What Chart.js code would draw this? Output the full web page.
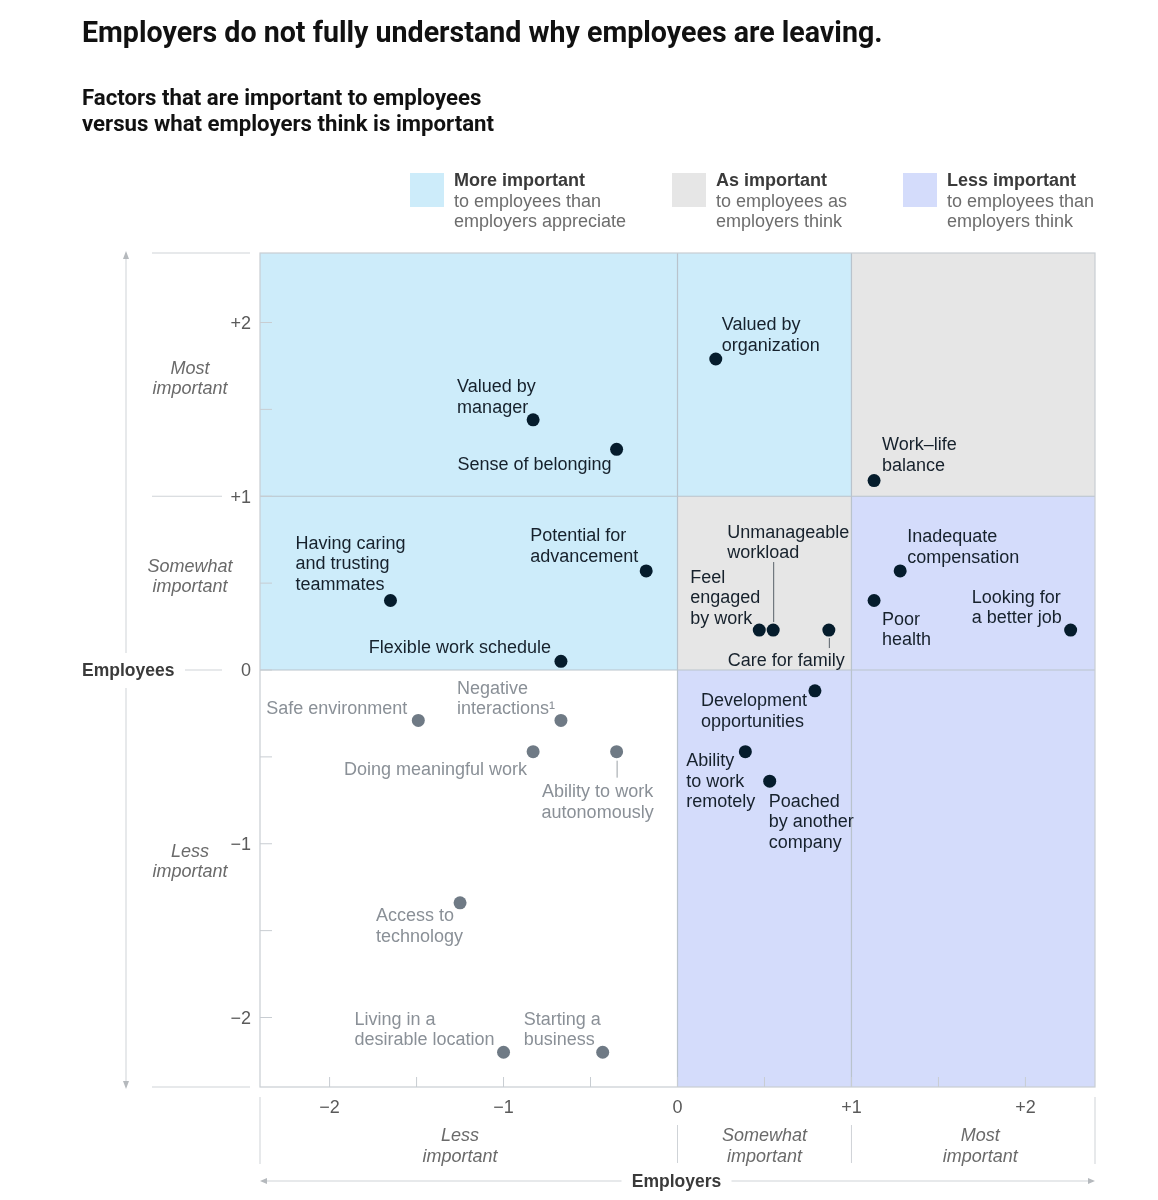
<!DOCTYPE html>
<html>
<head>
<meta charset="utf-8">
<script src="https://cdn.jsdelivr.net/npm/chart.js@4.4.0/dist/chart.umd.min.js"></script>
<style>
  body { margin: 0; background: #fff; font-family: "Liberation Sans", Arial, sans-serif; }
  #page { position: relative; width: 1158px; height: 1200px; overflow: hidden; }
  #chart { position: absolute; left: 0; top: 0; }
  h1 { position: absolute; left: 82px; top: 15px; margin: 0; font: 700 28.6px Roboto, sans-serif; color: #111; white-space: nowrap; }
  h2 { position: absolute; left: 82px; top: 84px; margin: 0; font: 700 22.2px/26px Roboto, sans-serif; color: #111; }
  .key { position: absolute; top: 170px; font-size: 18px; line-height: 20.5px; color: #6d6d6d; }
  .key .sw { position: absolute; left: 0; top: 3px; width: 34px; height: 34px; }
  .key .txt { position: absolute; left: 44px; top: 0; white-space: nowrap; }
  .key b { color: #3a3a3a; }
</style>
</head>
<body>
<div id="page">
  <canvas id="chart" width="1158" height="1200"></canvas>
  <h1>Employers do not fully understand why employees are leaving.</h1>
  <h2>Factors that are important to employees<br>versus what employers think is important</h2>
  <div class="key" style="left:410px"><div class="sw" style="background:#cdecfa"></div>
    <div class="txt"><b>More important</b><br>to employees than<br>employers appreciate</div></div>
  <div class="key" style="left:672px"><div class="sw" style="background:#e6e6e6"></div>
    <div class="txt"><b>As important</b><br>to employees as<br>employers think</div></div>
  <div class="key" style="left:903px"><div class="sw" style="background:#d4dcfb"></div>
    <div class="txt"><b>Less important</b><br>to employees than<br>employers think</div></div>
</div>
<script>
// ===== Data =====
const factors = [
  "Valued by\norganization", "Valued by\nmanager", "Sense of belonging", "Work–life\nbalance",
  "Potential for\nadvancement", "Having caring\nand trusting\nteammates", "Flexible work schedule",
  "Unmanageable\nworkload", "Feel\nengaged\nby work", "Care for family",
  "Inadequate\ncompensation", "Poor\nhealth", "Looking for\na better job",
  "Development\nopportunities", "Ability\nto work\nremotely", "Poached\nby another\ncompany",
  "Safe environment", "Negative\ninteractions¹", "Doing meaningful work",
  "Ability to work\nautonomously", "Access to\ntechnology", "Living in a\ndesirable location",
  "Starting a\nbusiness"
];
// importance according to employers (x) and employees (y)
const employerScores = [0.22, -0.83, -0.35, 1.13, -0.18, -1.65, -0.67, 0.55, 0.47, 0.87,
  1.28, 1.13, 2.26, 0.79, 0.39, 0.53, -1.49, -0.67, -0.83, -0.35, -1.25, -1.0, -0.43];
const employeeScores = [1.79, 1.44, 1.27, 1.09, 0.57, 0.40, 0.05, 0.23, 0.23, 0.23,
  0.57, 0.40, 0.23, -0.12, -0.47, -0.64, -0.29, -0.29, -0.47, -0.47, -1.34, -2.2, -2.2];

const axisMin = -2.4, axisMax = 2.4;
const axisTicks = [-2, -1, 0, 1, 2];
const axisTickLabels = ["−2", "−1", "0", "+1", "+2"];
const minorTicks = [-2, -1.5, -1, -0.5, 0, 0.5, 1, 1.5, 2];

// ===== Styling =====
const BLUE = "#cdecfa", GREY = "#e6e6e6", LAV = "#d4dcfb";
const GRID = "#b9c3cc";
const DOT_DARK = "#051c2c", DOT_MUTED = "#6f7a85";
const TXT_DARK = "#16212c", TXT_MUTED = "#8a9097";
const FONT = '18px "Liberation Sans", Arial, sans-serif';

// quadrant fills in data units
const zones = [
  [-2.4, 0, 0, 2.4, BLUE], [0, 1, 1, 2.4, BLUE],
  [0, 1, 0, 1, GREY], [1, 2.4, 1, 2.4, GREY],
  [1, 2.4, 0, 1, LAV], [0, 2.4, -2.4, 0, LAV]
];

// label placement relative to each point (pixels): dx, dy of first line, align, leader line
const labelLayout = [
  { dx: 6, dy: -35, align: "left" },
  { dx: -76, dy: -34, align: "left" },
  { dx: -5, dy: 14, align: "right" },
  { dx: 8, dy: -37, align: "left" },
  { dx: -116, dy: -36, align: "left" },
  { dx: -95, dy: -58, align: "left" },
  { dx: -10, dy: -15, align: "right" },
  { dx: -46, dy: -99, align: "left", lead: [-68, -8] },
  { dx: -69, dy: -54, align: "left" },
  { dx: 16, dy: 29, align: "right", lead: [8, 18] },
  { dx: 7, dy: -35, align: "left" },
  { dx: 8, dy: 18, align: "left" },
  { dx: -99, dy: -34, align: "left" },
  { dx: -114, dy: 9, align: "left" },
  { dx: -59, dy: 8, align: "left" },
  { dx: -1, dy: 19, align: "left" },
  { dx: -11, dy: -13, align: "right" },
  { dx: -104, dy: -33, align: "left" },
  { dx: -6, dy: 17, align: "right" },
  { dx: -19, dy: 39, align: "center", lead: [9, 26] },
  { dx: -84, dy: 12, align: "left" },
  { dx: -149, dy: -34, align: "left" },
  { dx: -79, dy: -34, align: "left" }
];
const LINE_H = 20.5;

function isMuted(i) {
  return employerScores[i] < 0 && employeeScores[i] < 0;
}

// ===== Plugins =====
const backdrop = {
  id: "backdrop",
  beforeDatasetsDraw(chart) {
    const { ctx, chartArea: a, scales: { x, y } } = chart;
    ctx.save();
    zones.forEach(([x0, x1, y0, y1, c]) => {
      const l = x.getPixelForValue(x0), r = x.getPixelForValue(x1);
      const t = y.getPixelForValue(y1), b = y.getPixelForValue(y0);
      ctx.fillStyle = c;
      ctx.fillRect(l, t, r - l, b - t);
    });
    ctx.strokeStyle = GRID;
    ctx.lineWidth = 1.2;
    [0, 1].forEach(v => {
      const px = x.getPixelForValue(v), py = y.getPixelForValue(v);
      ctx.beginPath();
      ctx.moveTo(px, a.top); ctx.lineTo(px, a.bottom);
      ctx.moveTo(a.left, py); ctx.lineTo(a.right, py);
      ctx.stroke();
    });
    ctx.strokeStyle = "#c9ced3";
    ctx.strokeRect(a.left, a.top, a.right - a.left, a.bottom - a.top);
    // minor ticks inside plot
    ctx.strokeStyle = "#c8cdd2";
    ctx.lineWidth = 1;
    minorTicks.forEach(v => {
      const py = y.getPixelForValue(v), px = x.getPixelForValue(v);
      ctx.beginPath();
      ctx.moveTo(a.left, py); ctx.lineTo(a.left + 12, py);
      ctx.moveTo(px, a.bottom); ctx.lineTo(px, a.bottom - 10);
      ctx.stroke();
    });
    ctx.restore();
  }
};

function arrowLine(ctx, x1, y1, x2, y2) {
  ctx.beginPath(); ctx.moveTo(x1, y1); ctx.lineTo(x2, y2); ctx.stroke();
}

const axesDecor = {
  id: "axesDecor",
  afterDraw(chart) {
    const { ctx, chartArea: a, scales: { x, y } } = chart;
    ctx.save();
    ctx.font = FONT;
    ctx.fillStyle = "#5a5a5a";
    ctx.textBaseline = "middle";
    // y tick labels
    ctx.textAlign = "right";
    axisTicks.forEach((v, i) => ctx.fillText(axisTickLabels[i], 251, y.getPixelForValue(v) + 1.5));
    // x tick labels
    ctx.textAlign = "center";
    axisTicks.forEach((v, i) => ctx.fillText(axisTickLabels[i], x.getPixelForValue(v), a.bottom + 21));

    ctx.strokeStyle = "#cfd3d7";
    ctx.lineWidth = 1;
    // left guide lines
    arrowLine(ctx, 152, a.top, 250, a.top);
    arrowLine(ctx, 152, y.getPixelForValue(1), 222, y.getPixelForValue(1));
    arrowLine(ctx, 152, a.bottom, 250, a.bottom);
    arrowLine(ctx, 185, y.getPixelForValue(0), 222, y.getPixelForValue(0));
    // vertical arrow
    arrowLine(ctx, 126, a.top, 126, y.getPixelForValue(0) - 17);
    arrowLine(ctx, 126, y.getPixelForValue(0) + 18, 126, a.bottom);
    ctx.fillStyle = "#b5b9bd";
    ctx.beginPath(); ctx.moveTo(126, a.top - 2); ctx.lineTo(123, a.top + 6); ctx.lineTo(129, a.top + 6); ctx.fill();
    ctx.beginPath(); ctx.moveTo(126, a.bottom + 2); ctx.lineTo(123, a.bottom - 6); ctx.lineTo(129, a.bottom - 6); ctx.fill();

    // bottom separators
    arrowLine(ctx, a.left, a.bottom + 10, a.left, a.bottom + 77);
    arrowLine(ctx, a.right, a.bottom + 10, a.right, a.bottom + 77);
    arrowLine(ctx, x.getPixelForValue(0), a.bottom + 38, x.getPixelForValue(0), a.bottom + 76);
    arrowLine(ctx, x.getPixelForValue(1), a.bottom + 38, x.getPixelForValue(1), a.bottom + 76);
    // horizontal arrow
    const ay = a.bottom + 94, mid = (a.left + a.right) / 2;
    arrowLine(ctx, a.left + 2, ay, mid - 56, ay);
    arrowLine(ctx, mid + 54, ay, a.right - 2, ay);
    ctx.beginPath(); ctx.moveTo(a.left, ay); ctx.lineTo(a.left + 7, ay - 3); ctx.lineTo(a.left + 7, ay + 3); ctx.fill();
    ctx.beginPath(); ctx.moveTo(a.right, ay); ctx.lineTo(a.right - 7, ay - 3); ctx.lineTo(a.right - 7, ay + 3); ctx.fill();

    // axis titles
    ctx.font = 'bold 17.5px "Liberation Sans", Arial, sans-serif';
    ctx.fillStyle = "#3a3a3a";
    ctx.textAlign = "left";
    ctx.fillText("Employees", 82, y.getPixelForValue(0) + 1.5);
    ctx.textAlign = "center";
    ctx.fillText("Employers", mid - 1, ay + 1.5);

    // italic bands
    ctx.font = 'italic 18px "Liberation Sans", Arial, sans-serif';
    ctx.fillStyle = "#6a6a6a";
    const bands = [["Most", "important", 1.68], ["Somewhat", "important", 0.54], ["Less", "important", -1.1]];
    bands.forEach(([l1, l2, v]) => {
      const py = y.getPixelForValue(v);
      ctx.fillText(l1, 190, py - 9);
      ctx.fillText(l2, 190, py + 11);
    });
    const xb = [["Less", "important", -1.25], ["Somewhat", "important", 0.5], ["Most", "important", 1.74]];
    xb.forEach(([l1, l2, v]) => {
      const px = x.getPixelForValue(v);
      ctx.fillText(l1, px, a.bottom + 49);
      ctx.fillText(l2, px, a.bottom + 70);
    });
    ctx.restore();
  }
};

const pointLabels = {
  id: "pointLabels",
  afterDatasetsDraw(chart) {
    const { ctx, scales: { x, y } } = chart;
    ctx.save();
    ctx.font = FONT;
    ctx.textBaseline = "middle";
    factors.forEach((name, i) => {
      const px = x.getPixelForValue(employerScores[i]);
      const py = y.getPixelForValue(employeeScores[i]);
      const L = labelLayout[i];
      ctx.fillStyle = isMuted(i) ? TXT_MUTED : TXT_DARK;
      ctx.textAlign = L.align;
      name.split("\n").forEach((line, k) => ctx.fillText(line, px + L.dx, py + L.dy + 1.5 + k * LINE_H));
      if (L.lead) {
        ctx.strokeStyle = isMuted(i) ? "#9aa0a6" : "#59616a";
        ctx.lineWidth = 1;
        ctx.beginPath();
        ctx.moveTo(px + 0.5, py + L.lead[0]);
        ctx.lineTo(px + 0.5, py + L.lead[1]);
        ctx.stroke();
      }
    });
    ctx.restore();
  }
};

// ===== Chart =====
new Chart(document.getElementById("chart"), {
  type: "scatter",
  data: {
    datasets: [{
      data: employerScores.map((v, i) => ({ x: v, y: employeeScores[i] })),
      pointRadius: 6.5,
      pointBorderWidth: 0,
      pointBackgroundColor: ctx => isMuted(ctx.dataIndex) ? DOT_MUTED : DOT_DARK
    }]
  },
  options: {
    responsive: false,
    animation: false,
    devicePixelRatio: 1,
    layout: { padding: { left: 260, top: 253, right: 63, bottom: 113 } },
    plugins: { legend: { display: false }, tooltip: { enabled: false } },
    scales: {
      x: { type: "linear", min: axisMin, max: axisMax, display: false },
      y: { type: "linear", min: axisMin, max: axisMax, display: false }
    }
  },
  plugins: [backdrop, axesDecor, pointLabels]
});
</script>
</body>
</html>
